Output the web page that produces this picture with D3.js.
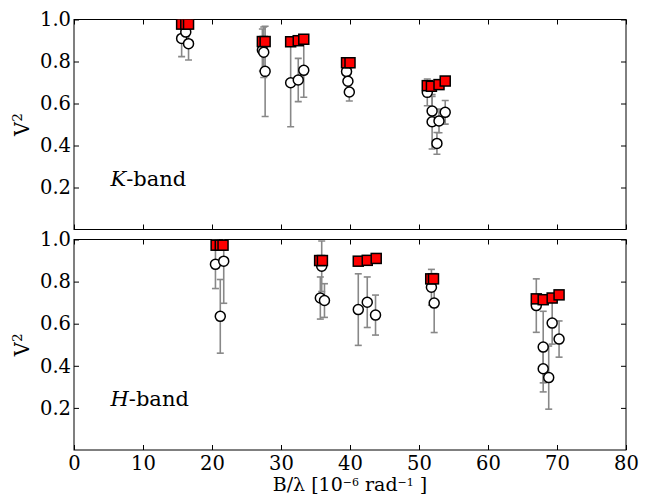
<!DOCTYPE html>
<html><head><meta charset="utf-8">
<script src="https://cdn.jsdelivr.net/npm/d3@7"></script>
<style>
body{margin:0;background:#fff;}
svg{display:block;font-family:"DejaVu Serif",serif;}
</style></head>
<body><svg id="c" width="654" height="497"></svg>
<script>
// ---- data ----
const xTicks = [0,10,20,30,40,50,60,70,80];
const yTicks = [0.2,0.4,0.6,0.8,1.0];
// K-band: model (squares) [B/lambda, V2]
const kModelB = [15.6,16.2,16.6,27.3,27.7,31.4,32.5,33.3,39.5,40.0,51.2,51.8,52.9,53.8];
const kModelV = [0.978,0.978,0.978,0.895,0.895,0.894,0.899,0.906,0.794,0.794,0.685,0.682,0.690,0.707];
// K-band: observed (circles) with errors
const kObsB = [15.6,16.2,16.6,27.3,27.5,27.7,31.4,32.5,33.3,39.5,39.7,39.9,51.2,51.9,51.9,52.6,52.9,53.8];
const kObsV = [0.910,0.940,0.885,0.855,0.844,0.753,0.699,0.712,0.758,0.752,0.706,0.655,0.653,0.564,0.513,0.410,0.517,0.558];
const kObsE = [0.087,0.050,0.078,0.100,0.120,0.215,0.210,0.103,0.128,0.050,0.050,0.043,0.064,0.070,0.130,0.052,0.056,0.056];
// H-band: model (squares)
const hModelB = [20.6,21.2,21.6,35.6,36.0,41.2,42.5,43.8,51.7,52.1,67.0,68.0,69.3,70.3];
const hModelV = [0.973,0.973,0.973,0.900,0.900,0.897,0.901,0.910,0.813,0.813,0.718,0.714,0.722,0.737];
// H-band: observed (circles)
const hObsB = [20.5,21.7,21.2,35.9,35.7,36.3,41.2,42.5,43.7,51.8,52.2,67.0,68.0,68.0,68.8,69.3,70.3];
const hObsV = [0.882,0.897,0.635,0.873,0.722,0.710,0.667,0.702,0.641,0.773,0.698,0.686,0.489,0.386,0.344,0.603,0.527];
const hObsE = [0.115,0.200,0.175,0.120,0.100,0.080,0.170,0.120,0.095,0.085,0.140,0.127,0.170,0.110,0.150,0.100,0.086];

// ---- drawing ----
const svg = d3.select("#c");
const X0 = 74, X1 = 626;
const x = d3.scaleLinear().domain([0,80]).range([X0,X1]);
const FS = 19.5;

function panel(top, bottom, mB, mV, oB, oV, oE, bandLetter, showXLabels){
  const y = d3.scaleLinear().domain([0,1]).range([bottom, top]);
  const g = svg.append("g");
  const tk = 5;
  const ax = (sel)=>{ sel.select(".domain").remove(); sel.selectAll("line").attr("stroke","#000"); sel.selectAll("text").attr("font-family","DejaVu Serif").attr("font-size",FS).attr("fill","#000"); };
  g.append("g").attr("transform",`translate(${X0},0)`)
    .call(d3.axisLeft(y).tickValues(yTicks).tickFormat(d3.format(".1f")).tickSize(-tk).tickPadding(3)).call(ax);
  g.append("g").attr("transform",`translate(${X1},0)`)
    .call(d3.axisRight(y).tickValues(yTicks).tickFormat("").tickSize(-tk)).call(ax);
  g.append("g").attr("transform",`translate(0,${top})`)
    .call(d3.axisTop(x).tickValues(xTicks).tickFormat("").tickSize(-tk)).call(ax);
  g.append("g").attr("transform",`translate(0,${bottom})`)
    .call(d3.axisBottom(x).tickValues(xTicks).tickFormat(showXLabels? d3.format("d") : "").tickSize(-tk).tickPadding(6)).call(ax);
  g.append("rect").attr("x",X0).attr("y",top).attr("width",X1-X0).attr("height",bottom-top)
    .attr("fill","none").attr("stroke","#000").attr("stroke-width",1);

  const obs = oB.map((b,i)=>({b, v:oV[i], e:oE[i]}));
  const mod = mB.map((b,i)=>({b, v:mV[i]}));
  const clip = "clip"+bandLetter;
  svg.append("clipPath").attr("id",clip).append("rect").attr("x",X0).attr("y",top).attr("width",X1-X0).attr("height",bottom-top);
  const d = g.append("g").attr("clip-path",`url(#${clip})`);
  const eb = d.append("g").attr("stroke","#888").attr("stroke-width",1.6);
  const cap = 3.5;
  obs.forEach(o=>{
    eb.append("line").attr("x1",x(o.b)).attr("x2",x(o.b)).attr("y1",y(o.v-o.e)).attr("y2",y(o.v+o.e));
    eb.append("line").attr("x1",x(o.b)-cap).attr("x2",x(o.b)+cap).attr("y1",y(o.v-o.e)).attr("y2",y(o.v-o.e));
    eb.append("line").attr("x1",x(o.b)-cap).attr("x2",x(o.b)+cap).attr("y1",y(o.v+o.e)).attr("y2",y(o.v+o.e));
  });
  d.append("g").selectAll("circle").data(obs).join("circle")
    .attr("cx",o=>x(o.b)).attr("cy",o=>y(o.v)).attr("r",5)
    .attr("fill","#fff").attr("stroke","#000").attr("stroke-width",1.5);
  const s = 10;
  d.append("g").selectAll("rect").data(mod).join("rect")
    .attr("x",m=>x(m.b)-s/2).attr("y",m=>y(m.v)-s/2).attr("width",s).attr("height",s)
    .attr("fill","#ff0000").attr("stroke","#000").attr("stroke-width",1.5);

  const t = g.append("text").attr("x",x(5)+2).attr("y",y(0.2)-2).attr("font-size",21).attr("fill","#000");
  t.append("tspan").attr("font-style","italic").text(bandLetter);
  t.append("tspan").text("-band");
  const yl = g.append("text").attr("transform",`translate(29,${(top+bottom)/2}) rotate(-90)`)
    .attr("text-anchor","middle").attr("font-size",FS).attr("fill","#000");
  yl.append("tspan").text("V");
  yl.append("tspan").attr("font-size",FS*0.7).attr("dy",-7).text("2");
}

panel(19.5, 229.5, kModelB, kModelV, kObsB, kObsV, kObsE, "K", false);
panel(239.5, 450, hModelB, hModelV, hObsB, hObsV, hObsE, "H", true);

const xl = svg.append("text").attr("x",(X0+X1)/2).attr("y",491).attr("text-anchor","middle").attr("font-size",19).attr("fill","#000");
xl.append("tspan").text("B/λ [10");
xl.append("tspan").attr("font-size",11).attr("dy",-5).text("−6");
xl.append("tspan").attr("dy",5).text(" rad");
xl.append("tspan").attr("font-size",11).attr("dy",-5).text("−1");
xl.append("tspan").attr("dy",5).text(" ]");
</script></body></html>
